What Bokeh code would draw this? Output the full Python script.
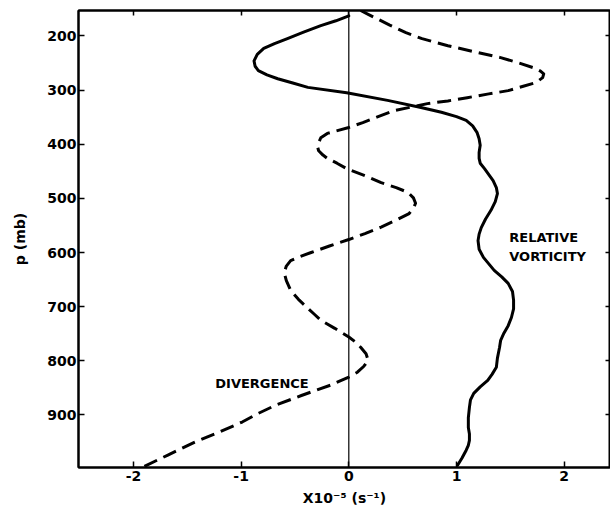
from bokeh.plotting import figure
from bokeh.models import Range1d, FixedTicker, Span, LinearAxis
from bokeh.core.properties import value
from bokeh.embed import file_html
from bokeh.resources import INLINE

# Relative vorticity (x 1e-5 s^-1) vs pressure (mb)
vort_p = [163, 172, 181, 193, 205, 214, 223, 234, 246, 256, 264, 272, 279, 287,
          295, 305, 319, 332, 341, 349, 356, 366, 378, 390, 402, 415, 426, 435,
          445, 456, 467, 480, 491, 506, 522, 538, 554, 566, 578, 594, 609, 621,
          633, 645, 657, 672, 688, 704, 720, 735, 749, 762, 775, 795, 812, 825,
          836, 848, 860, 872, 886, 905, 923, 935, 947, 956, 965, 980, 993]
vort_x = [0.0, -0.12, -0.26, -0.42, -0.57, -0.69, -0.79, -0.85, -0.88, -0.87, -0.84,
          -0.76, -0.66, -0.52, -0.38, -0.02, 0.36, 0.67, 0.86, 1.0, 1.09, 1.15, 1.19,
          1.21, 1.22, 1.21, 1.21, 1.22, 1.26, 1.30, 1.34, 1.37, 1.38, 1.36, 1.32,
          1.27, 1.23, 1.21, 1.20, 1.21, 1.25, 1.30, 1.35, 1.42, 1.48, 1.52, 1.53,
          1.53, 1.51, 1.48, 1.44, 1.41, 1.40, 1.38, 1.37, 1.33, 1.29, 1.22, 1.16,
          1.13, 1.12, 1.11, 1.11, 1.12, 1.12, 1.11, 1.09, 1.05, 1.01]

# Divergence (x 1e-5 s^-1) vs pressure (mb)
div_p = [153, 160, 168, 180, 194, 205, 218, 229, 240, 250, 259, 265, 270, 277, 286,
         293, 301, 307, 314, 320, 325, 338, 350, 360, 369, 380, 388, 397, 405, 412,
         420, 426, 435, 445, 458, 471, 480, 489, 499, 509, 518, 528, 540, 553, 565,
         576, 588, 600, 608, 615, 625, 637, 652, 670, 686, 703, 714, 725, 740, 756,
         765, 775, 787, 799, 810, 821, 830, 845, 864, 882, 898, 913, 932, 950, 974,
         996]
div_x = [0.11, 0.18, 0.26, 0.38, 0.53, 0.68, 0.92, 1.16, 1.41, 1.58, 1.72, 1.78,
         1.81, 1.80, 1.74, 1.62, 1.48, 1.30, 1.10, 0.92, 0.73, 0.42, 0.26, 0.13, 0.0,
         -0.20, -0.26, -0.28, -0.29, -0.28, -0.24, -0.20, -0.11, -0.02, 0.15, 0.30,
         0.44, 0.55, 0.60, 0.62, 0.60, 0.56, 0.44, 0.30, 0.15, 0.0, -0.18, -0.35,
         -0.46, -0.54, -0.58, -0.60, -0.58, -0.54, -0.47, -0.38, -0.32, -0.26, -0.13,
         0.0, 0.06, 0.11, 0.16, 0.18, 0.14, 0.08, 0.0, -0.17, -0.44, -0.68, -0.85,
         -0.99, -1.21, -1.43, -1.68, -1.91]

x_ticks = [-2, -1, 0, 1, 2]
x_tick_labels = {-2: "-2", -1: "-1", 0: "0", 1: "1", 2: "2"}
y_ticks = [200, 300, 400, 500, 600, 700, 800, 900]

label_div = ["DIVERGENCE"]
label_div_x = [-1.24]
label_div_p = [841]
label_vort = ["RELATIVE", "VORTICITY"]
label_vort_x = [1.49, 1.49]
label_vort_p = [572, 607]

FONT = "DejaVu Sans"

p = figure(width=610, height=517,
           x_range=Range1d(-2.51, 2.43), y_range=Range1d(997, 153),
           output_backend="svg", toolbar_location=None,
           min_border_left=78, min_border_right=0, min_border_top=10,
           min_border_bottom=50,
           x_axis_label="X10\u207b\u2075 (s\u207b\u00b9)", y_axis_label="p (mb)")
p.grid.visible = False
p.outline_line_color = "black"
p.outline_line_width = 2
p.background_fill_color = "white"
p.border_fill_color = "white"

for ax in list(p.xaxis) + list(p.yaxis):
    ax.axis_line_width = 2
    ax.axis_line_color = "black"
    ax.major_tick_in = 6
    ax.major_tick_out = 0
    ax.major_tick_line_width = 1.5
    ax.minor_tick_line_color = None
    ax.major_label_text_font = FONT
    ax.major_label_text_font_style = "bold"
    ax.major_label_text_font_size = "14px"
    ax.major_label_text_color = "black"
    ax.axis_label_text_font = FONT
    ax.axis_label_text_font_style = "bold"
    ax.axis_label_text_font_size = "14px"
    ax.axis_label_text_color = "black"

p.xaxis.ticker = FixedTicker(ticks=x_ticks)
p.xaxis.major_label_overrides = x_tick_labels
p.xaxis.major_label_standoff = 3
p.xaxis.axis_label_standoff = 6
p.yaxis.ticker = FixedTicker(ticks=y_ticks)
p.yaxis.major_label_standoff = 2
p.yaxis.axis_label_standoff = 16

top = LinearAxis(ticker=FixedTicker(ticks=x_ticks), major_label_text_font_size="1px",
                 major_label_text_color=None,
                 major_tick_in=5, major_tick_out=0, major_label_standoff=0,
                 axis_line_width=2, major_tick_line_width=1.5,
                 minor_tick_line_color=None)
p.add_layout(top, "above")
right = LinearAxis(ticker=FixedTicker(ticks=y_ticks), major_label_text_font_size="1px",
                   major_label_text_color=None,
                   major_tick_in=5, major_tick_out=0, major_label_standoff=0,
                   axis_line_width=2, major_tick_line_width=1.5,
                   minor_tick_line_color=None)
p.add_layout(right, "right")

p.add_layout(Span(location=0, dimension="height", line_color="black", line_width=1.2))

p.line(vort_x, vort_p, line_color="black", line_width=3, line_join="round", line_cap="round")
p.line(div_x, div_p, line_color="black", line_width=3, line_dash="14 7", line_join="round")

p.text(x=label_div_x, y=label_div_p, text=label_div, text_font=value(FONT),
       text_font_style="bold", text_font_size="13px", text_baseline="middle",
       text_align="left", text_color="black")
p.text(x=label_vort_x, y=label_vort_p, text=label_vort, text_font=value(FONT),
       text_font_style="bold", text_font_size="13px", text_baseline="middle",
       text_align="left", text_color="black")

open("out.html", "w").write(file_html(p, INLINE))
